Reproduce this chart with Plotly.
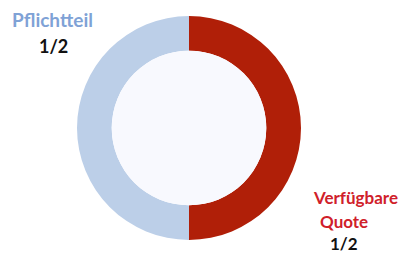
import plotly.graph_objects as go

labels = ["Verfügbare Quote", "Pflichtteil"]
values = [1, 1]
fractions = ["1/2", "1/2"]
colors = ["#b01f08", "#bccfe8"]
label_colors = ["#d0202a", "#7fa2d6"]

W, H = 399, 255
cx, cy, R = 189, 127, 112

fig = go.Figure()
fig.add_trace(go.Pie(
    labels=labels, values=values, sort=False, direction="clockwise", rotation=0,
    hole=0.69, marker=dict(colors=colors, line=dict(width=0)),
    textinfo="none", hoverinfo="label", showlegend=False,
    domain=dict(x=[(cx - R) / W, (cx + R) / W], y=[(cy - R) / H, (cy + R) / H]),
))

ri = R * 0.69
fig.add_shape(type="circle", xref="paper", yref="paper",
              x0=(cx - ri) / W, x1=(cx + ri) / W, y0=(cy - ri) / H, y1=(cy + ri) / H,
              fillcolor="#f8f9fe", line=dict(width=0), layer="above")

font = "Lato, Liberation Sans, sans-serif"


def label(x, y, text, color, size=18, yanchor="middle"):
    fig.add_annotation(x=x / W, y=1 - y / H, xref="paper", yref="paper", showarrow=False,
                       xanchor="center", yanchor=yanchor, text=f"<b>{text}</b>",
                       borderpad=0, font=dict(family=font, size=size, color=color))


label(52, 20, labels[1], label_colors[1], size=19)
label(53, 46, fractions[1], "#111111")
label(355, 197, "Verfügbare", label_colors[0], size=17)
label(344, 221, "Quote", label_colors[0], size=17)
label(344, 255, fractions[0], "#111111", size=17, yanchor="bottom")

fig.update_layout(width=W, height=H, margin=dict(l=0, r=0, t=0, b=0),
                  paper_bgcolor="white", plot_bgcolor="white")
fig.write_html("out.html", config={"displayModeBar": False},
               post_script="document.body.style.margin='0';")
